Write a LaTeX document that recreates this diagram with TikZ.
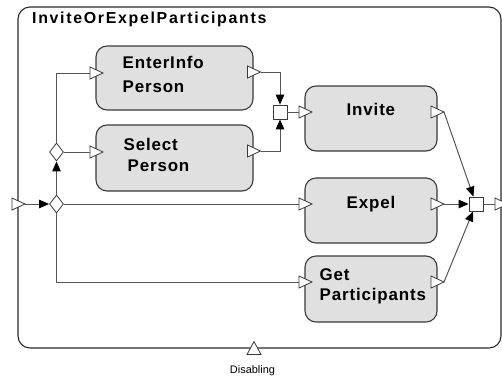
\documentclass[tikz,border=0pt]{standalone}
\usepackage{fontspec}
\setmainfont{Liberation Sans}
\newfontfamily\lblfont{Liberation Sans}[LetterSpace=5]
\newfontfamily\ttlfont{Liberation Sans}[LetterSpace=10.5]
\usetikzlibrary{arrows.meta,shapes.geometric}
\definecolor{boxfill}{HTML}{E0E0E0}
\definecolor{boxline}{HTML}{3A3A3A}
\definecolor{connc}{HTML}{555555}
\definecolor{outerc}{HTML}{2A2A2A}
\tikzset{
  pbox/.style={draw=boxline, fill=boxfill, line width=1.1bp, rounded corners=11bp, inner sep=0pt, outer sep=0pt},
  conn/.style={draw=connc, line width=1bp},
  blk/.style={-{Triangle[length=10bp,width=8.5bp,color=black]}},
  portst/.style={draw=boxline, fill=white, line width=0.8bp, line join=miter},
  porti/.pic={\draw[portst] (-6,-6) -- (7,0) -- (-6,6) -- cycle;
              \coordinate (-b) at (-6,0); \coordinate (-t) at (7,0);},
  portu/.pic={\draw[portst] (-7,6.5) -- (0,-6.5) -- (7,6.5) -- cycle;
              \coordinate (-b) at (0,6.5);},
  gate/.style={diamond, draw=boxline, fill=white, line width=0.8bp, minimum width=14bp, minimum height=18bp, inner sep=0pt},
  joinbox/.style={rectangle, draw=boxline, fill=white, line width=0.8bp, minimum size=14bp, inner sep=0pt},
  lbl/.style={anchor=base west, inner sep=0pt, font=\lblfont\bfseries\fontsize{17}{20}\selectfont, text=black},
}
\begin{document}
\begin{tikzpicture}[x=1bp,y=-1bp]
\useasboundingbox (0,0) rectangle (502,379);
% outer box
\draw[draw=outerc, line width=1.1bp, rounded corners=12bp] (18,7) rectangle (501,348);
\node[anchor=base west, inner sep=0pt, font=\ttlfont\bfseries\fontsize{16}{19}\selectfont] (title) at (32,23) {InviteOrExpelParticipants};
% activity boxes
\node[pbox, minimum width=157bp, minimum height=64bp] (ei) at (174.5,78) {};
\node[pbox, minimum width=157bp, minimum height=66bp] (se) at (174.5,158) {};
\node[pbox, minimum width=132bp, minimum height=65bp] (iv) at (371,118.5) {};
\node[pbox, minimum width=132bp, minimum height=65bp] (ex) at (371,210.5) {};
\node[pbox, minimum width=132bp, minimum height=66bp] (gp) at (371,289) {};
% labels
\node[lbl] (ei1) at (122.5,68) {EnterInfo};
\node[lbl] (ei2) at (122.5,92) {Person};
\node[lbl] (se1) at (123.5,150) {Select};
\node[lbl] (se2) at (127.5,171) {Person};
\node[lbl] (iv1) at (346.5,115) {Invite};
\node[lbl] (ex1) at (346.5,208) {Expel};
\node[lbl] (gp1) at (319.5,280) {Get};
\node[lbl] (gp2) at (319.5,300) {Participants};
% ports
\pic (op-in) at (18,204) {porti};
\pic (op-out) at (501,204) {porti};
\pic (ei-in) at (96,73) {porti};
\pic (ei-out) at (253.5,72) {porti};
\pic (se-in) at (96,152) {porti};
\pic (se-out) at (253.5,151) {porti};
\pic (iv-in) at (305,112) {porti};
\pic (iv-out) at (437,112) {porti};
\pic (ex-in) at (305,204) {porti};
\pic (ex-out) at (437,204) {porti};
\pic (gp-in) at (305,282) {porti};
\pic (gp-out) at (437,282) {porti};
\pic (dis-p) at (254,348) {portu};
\node[anchor=base, inner sep=0pt, font=\fontsize{11}{13}\selectfont] (dis) at (252.5,373) {Disabling};
% gates and joins
\node[gate] (d1) at (56.5,204) {};
\node[gate] (d2) at (56.5,152) {};
\node[joinbox] (j1) at (280,112) {};
\node[joinbox] (j2) at (476,204) {};
% connectors
\draw[conn,blk] (op-in-t) -- (d1);
\draw[conn,blk] (d1) -- (d2);
\draw[conn] (d1) -- (ex-in-b);
\draw[conn] (d1) |- (gp-in-b);
\draw[conn] (d2) -- (se-in-b);
\draw[conn] (d2) |- (ei-in-b);
\draw[conn,blk] (ei-out-t) -| (j1);
\draw[conn,blk] (se-out-t) -| (j1);
\draw[conn] (j1) -- (iv-in-b);
\draw[conn,blk] (iv-out-t) -- (j2);
\draw[conn,blk] (ex-out-t) -- (j2);
\draw[conn,blk] (gp-out-t) -- (j2);
\draw[conn] (j2) -- (op-out-b);
\end{tikzpicture}
\end{document}
